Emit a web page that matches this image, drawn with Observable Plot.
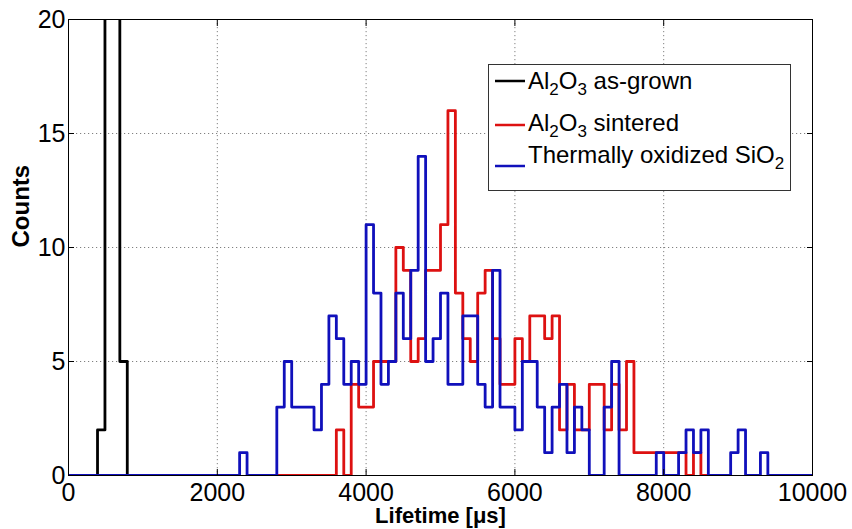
<!DOCTYPE html>
<html>
<head>
<meta charset="utf-8">
<script src="https://cdn.jsdelivr.net/npm/d3@7"></script>
<script src="https://cdn.jsdelivr.net/npm/@observablehq/plot@0.6"></script>
<style>
  html, body { margin: 0; padding: 0; background: white; }
  #wrap { position: relative; width: 852px; height: 529px; }
  #legend { position: absolute; left: 488px; top: 64px; }
</style>
</head>
<body>
<div id="wrap"></div>
<script>
// ---- data (bins of 100 µs) ----
const binWidth = 100;
const xDomain = [0, 10000];
const yDomain = [0, 20];
const xTicks = [0, 2000, 4000, 6000, 8000, 10000];
const yTicks = [0, 5, 10, 15, 20];

const seriesNames = ["Al2O3 as-grown", "Al2O3 sintered", "Thermally oxidized SiO2"];
const seriesColors = ["#000000", "#dd1111", "#1010bb"];

// Al2O3 as-grown (tall bins run off the top of the axes)
const asGrownStart = 390;
const asGrownCounts = [2, 45, 38, 5];

// Al2O3 sintered
const sinteredStart = 2800;
const sinteredCounts = [0, 0, 0, 0, 0, 0, 0, 0, 2, 0, 4, 3, 3, 5, 5, 5, 10, 9, 5, 6,
  9, 9, 11, 16, 8, 6, 5, 8, 9, 6, 4, 4, 6, 5, 7, 7, 6, 7, 2, 4,
  2, 2, 4, 4, 2, 4, 2, 5, 1, 1, 1, 1, 1, 1, 1, 0, 1, 0];

// Thermally oxidized SiO2
const sio2Start = 2300;
const sio2Counts = [1, 0, 0, 0, 0, 3, 5, 3, 3, 3, 2, 4, 7, 6, 4, 5, 4, 11, 8, 4,
  5, 8, 6, 9, 14, 5, 6, 8, 4, 4, 7, 7, 4, 3, 9, 3, 3, 2, 5, 5,
  3, 1, 3, 4, 1, 3, 2, 0, 0, 3, 5, 0, 0, 0, 0, 0, 1, 0, 0, 1,
  2, 1, 2, 0, 0, 0, 1, 2, 0, 0, 1];

function steps(start, counts, extendToEnd) {
  const pts = [{x: xDomain[0], y: 0}];
  counts.forEach((c, i) => pts.push({x: start + i * binWidth, y: c}));
  pts.push({x: start + counts.length * binWidth, y: 0});
  if (extendToEnd) pts.push({x: xDomain[1], y: 0});
  return pts;
}

const asGrown = steps(asGrownStart, asGrownCounts, false);
const sintered = steps(sinteredStart, sinteredCounts, false).slice(1);
const sio2 = steps(sio2Start, sio2Counts, true);

const font = "'Liberation Sans', Arial, Helvetica, sans-serif";
const dotted = {stroke: "#808080", strokeOpacity: 1, strokeDasharray: "1.2,2.8", strokeWidth: 1};
const plain = d3.format("d");

const chart = Plot.plot({
  width: 852,
  height: 529,
  marginLeft: 68,
  marginRight: 40,
  marginTop: 19,
  marginBottom: 54,
  style: {fontFamily: font, background: "white", color: "black"},
  x: {domain: xDomain},
  y: {domain: yDomain},
  marks: [
    Plot.gridX(xTicks, dotted),
    Plot.gridY(yTicks, dotted),
    Plot.line(asGrown, {x: "x", y: "y", curve: "step-after", stroke: seriesColors[0], strokeWidth: 2.8, clip: true}),
    Plot.line(sintered, {x: "x", y: "y", curve: "step-after", stroke: seriesColors[1], strokeWidth: 2.8, clip: true}),
    Plot.line(sio2, {x: "x", y: "y", curve: "step-after", stroke: seriesColors[2], strokeWidth: 2.8, clip: true}),
    Plot.frame({stroke: "black", strokeWidth: 1}),
    // inward ticks on all four sides
    Plot.axisX(xTicks, {anchor: "bottom", tickSize: -6, tickFormat: () => "", label: null}),
    Plot.axisX(xTicks, {anchor: "top", tickSize: -6, tickFormat: () => "", label: null}),
    Plot.axisY(yTicks, {anchor: "left", tickSize: -6, tickFormat: () => "", label: null}),
    Plot.axisY(yTicks, {anchor: "right", tickSize: -6, tickFormat: () => "", label: null}),
    // tick labels
    Plot.axisX(xTicks, {anchor: "bottom", tickSize: 0, tickPadding: 8, fontSize: 25, tickFormat: plain, label: null}),
    Plot.axisY(yTicks, {anchor: "left", tickSize: 0, tickPadding: 3, fontSize: 25, tickFormat: plain, label: null}),
    // axis titles
    Plot.text(["Lifetime [μs]"], {frameAnchor: "bottom", dy: 40, fontSize: 22, fontWeight: "bold", lineAnchor: "middle"}),
    Plot.text(["Counts"], {frameAnchor: "left", dx: -47, rotate: -90, fontSize: 24, fontWeight: "bold", lineAnchor: "middle"})
  ]
});

const wrap = document.getElementById("wrap");
wrap.appendChild(chart);

// legend (inside the axes, top right)
const ns = "http://www.w3.org/2000/svg";
const leg = document.createElementNS(ns, "svg");
leg.setAttribute("id", "legend");
leg.setAttribute("width", 304);
leg.setAttribute("height", 128);
leg.style.fontFamily = font;
const rowY = [17, 61, 102];
const baseY = [25, 67, 99];
let html = `<rect x="0.5" y="0.5" width="302" height="126" fill="white" stroke="#333" stroke-width="1"/>`;
const labelsSvg = [
  `Al<tspan dy="6" font-size="17">2</tspan><tspan dy="-6">O</tspan><tspan dy="6" font-size="17">3</tspan><tspan dy="-6"> as-grown</tspan>`,
  `Al<tspan dy="6" font-size="17">2</tspan><tspan dy="-6">O</tspan><tspan dy="6" font-size="17">3</tspan><tspan dy="-6"> sintered</tspan>`,
  `Thermally oxidized SiO<tspan dy="6" font-size="17">2</tspan>`
];
seriesNames.forEach((name, i) => {
  html += `<line x1="7" x2="37" y1="${rowY[i]}" y2="${rowY[i]}" stroke="${seriesColors[i]}" stroke-width="2.5"/>`;
  html += `<text x="40" y="${baseY[i]}" font-size="24" fill="black">${labelsSvg[i]}</text>`;
});
leg.innerHTML = html;
wrap.appendChild(leg);
</script>
</body>
</html>
